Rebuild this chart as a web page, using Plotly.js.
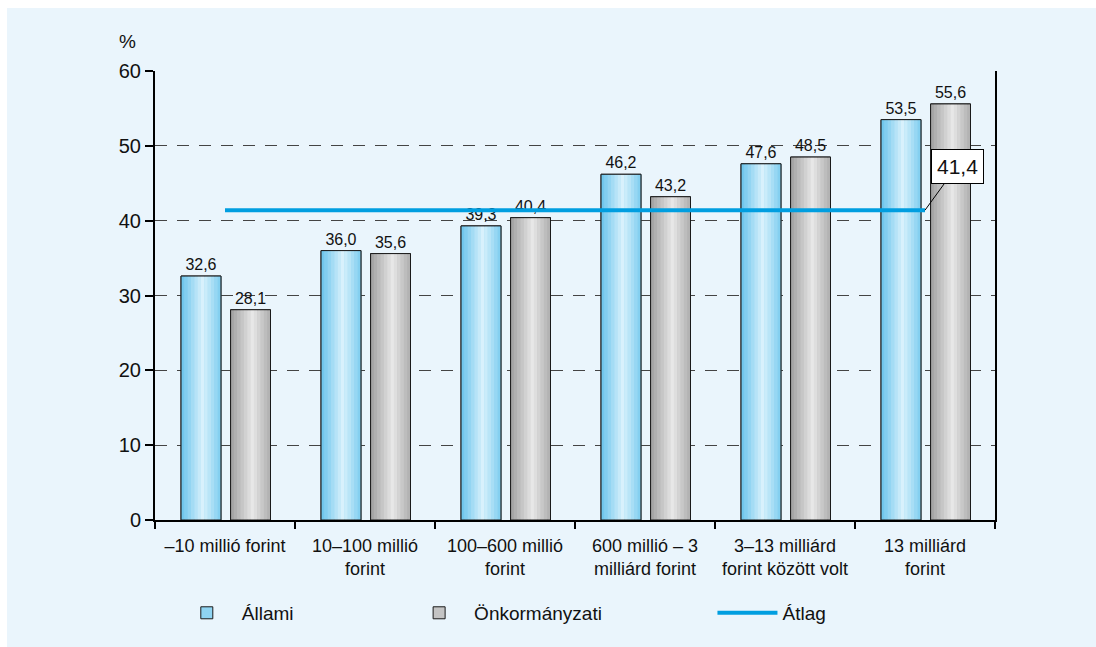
<!DOCTYPE html>
<html>
<head>
<meta charset="utf-8">
<script src="https://cdn.plot.ly/plotly-3.0.1.min.js"></script>
<style>
html,body{margin:0;padding:0;background:#ffffff;}
#chart{position:absolute;left:7px;top:8px;width:1089px;height:639px;}
</style>
</head>
<body>
<div id="chart"></div>
<script>
// ---- data ----
const categories = [
  "–10 millió forint",
  "10–100 millió<br>forint",
  "100–600 millió<br>forint",
  "600 millió – 3<br>milliárd forint",
  "3–13 milliárd<br>forint között volt",
  "13 milliárd<br>forint"
];
const allami = [32.6, 36.0, 39.3, 46.2, 47.6, 53.5];
const onkormanyzati = [28.1, 35.6, 40.4, 43.2, 48.5, 55.6];
const atlag = 41.4;
const seriesNames = ["Állami", "Önkormányzati", "Átlag"];
const yTicks = [0, 10, 20, 30, 40, 50, 60];

// ---- styling ----
const FONT = "Liberation Sans, Arial, sans-serif";
const BAR_W = 0.285;
const OFF_A = -0.314;
const OFF_O = 0.040;
const N_STRIPS = 12;
const NB = '\u00a0';

function fmt(v){ return v.toFixed(1).replace('.', ','); }
function mix(c1, c2, t){
  const r = Math.round(c1[0] + (c2[0]-c1[0])*t);
  const g = Math.round(c1[1] + (c2[1]-c1[1])*t);
  const b = Math.round(c1[2] + (c2[2]-c1[2])*t);
  return `rgb(${r},${g},${b})`;
}

function barSeries(values, name, offset, edge, center, mid){
  const traces = [];
  traces.push({
    type: 'bar', x: categories, y: values, name: name,
    offset: offset, width: BAR_W,
    marker: {color: mid, line: {color: '#1a1a1a', width: 1}},
    hoverinfo: 'skip', showlegend: true
  });
  const sw = BAR_W / N_STRIPS;
  for (let i = 0; i < N_STRIPS; i++) {
    const pos = (i + 0.5) / N_STRIPS;
    const t = 1 - Math.abs(pos - 0.55) / 0.55;
    traces.push({
      type: 'bar', x: categories, y: values,
      offset: offset + i*sw, width: sw + 0.002,
      marker: {color: mix(edge, center, Math.max(0, Math.min(1, t))), line: {width: 0}},
      hoverinfo: 'skip', showlegend: false
    });
  }
  traces.push({
    type: 'bar', x: categories, y: values,
    offset: offset, width: BAR_W,
    marker: {color: 'rgba(0,0,0,0)', line: {color: '#1a1a1a', width: 1}},
    text: values.map(fmt), textposition: 'outside', cliponaxis: false,
    textfont: {family: FONT, size: 16, color: '#111'},
    hoverinfo: 'skip', showlegend: false
  });
  return traces;
}

const traces = [].concat(
  barSeries(allami, seriesNames[0] + NB.repeat(20), OFF_A, [104,196,236], [218,242,252], '#8fd4f2'),
  barSeries(onkormanyzati, seriesNames[1] + NB.repeat(20), OFF_O, [160,160,160], [232,232,232], '#c4c4c4')
);

traces.push({
  type: 'scatter', mode: 'lines', name: seriesNames[2],
  x: [categories[0], categories[categories.length-1]],
  y: [atlag, atlag],
  line: {color: '#009ee0', width: 4},
  hoverinfo: 'skip', showlegend: true
});

const layout = {
  width: 1089, height: 639,
  paper_bgcolor: '#eaf5fc', plot_bgcolor: '#eaf5fc',
  margin: {l: 148, r: 101, t: 63, b: 127},
  barmode: 'overlay',
  showlegend: true,
  font: {family: FONT, color: '#111'},
  xaxis: {
    type: 'category',
    range: [-0.5, categories.length - 0.5],
    tickson: 'boundaries',
    tickangle: 0,
    ticklabelstandoff: 8,
    ticks: 'outside', ticklen: 7, tickwidth: 2, tickcolor: '#000',
    showline: true, linecolor: '#000', linewidth: 2,
    showgrid: false, zeroline: false,
    tickfont: {family: FONT, size: 18, color: '#111'},
    fixedrange: true
  },
  yaxis: {
    range: [0, 60],
    tickvals: yTicks,
    ticks: 'outside', ticklen: 8, tickwidth: 2, tickcolor: '#000',
    showline: true, linecolor: '#000', linewidth: 2, mirror: true,
    showgrid: true, gridcolor: '#444', gridwidth: 1, griddash: '12px,10px',
    zeroline: false,
    tickfont: {family: FONT, size: 20, color: '#111'},
    fixedrange: true
  },
  legend: {
    orientation: 'h', x: 0.02, y: -0.207, xanchor: 'left', yanchor: 'middle',
    font: {family: FONT, size: 19, color: '#111'},
    bgcolor: 'rgba(0,0,0,0)',
    itemwidth: 60,
    traceorder: 'normal'
  },
  annotations: [
    {
      xref: 'paper', yref: 'paper', x: -0.033, y: 1.065,
      xanchor: 'center', yanchor: 'middle',
      text: '%', showarrow: false,
      font: {family: FONT, size: 19, color: '#111'}
    },
    {
      x: categories.length - 1, y: atlag, xref: 'x', yref: 'y',
      text: fmt(atlag), showarrow: true,
      ax: 32, ay: -44, arrowhead: 0, arrowwidth: 1, arrowcolor: '#000',
      bgcolor: '#ffffff', bordercolor: '#000', borderwidth: 1, borderpad: 5,
      font: {family: FONT, size: 21, color: '#111'}
    }
  ]
};

Plotly.newPlot('chart', traces, layout, {displayModeBar: false, staticPlot: true});
</script>
</body>
</html>
